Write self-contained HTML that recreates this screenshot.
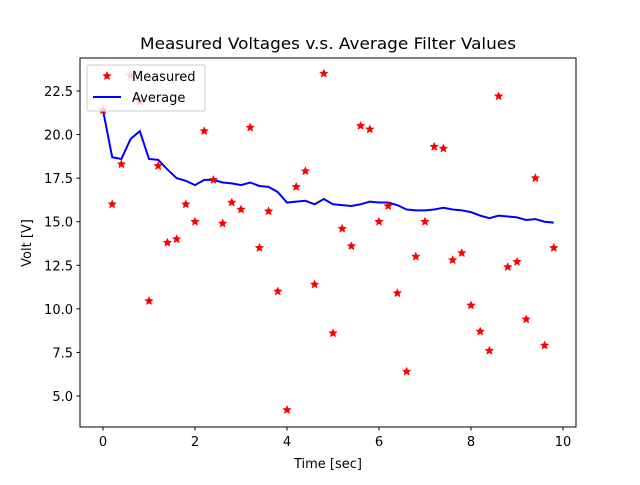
<!DOCTYPE html>
<html><head><meta charset="utf-8"><style>
body{margin:0;background:#fff}
svg text{font-family:"DejaVu Sans","Liberation Sans",sans-serif;fill:#000}
</style></head><body>
<svg id="chart" width="640" height="480" viewBox="0 0 640 480" xmlns="http://www.w3.org/2000/svg">
<rect width="640" height="480" fill="#fff"/>
<text x="328" y="49" font-size="16" text-anchor="middle" textLength="376" lengthAdjust="spacingAndGlyphs">Measured Voltages v.s. Average Filter Values</text>
<text x="328" y="468" font-size="13" text-anchor="middle">Time [sec]</text>
<text transform="translate(31,243) rotate(-90)" font-size="13" text-anchor="middle">Volt [V]</text>
<g id="ticks"></g>
<g id="plot"></g>
<rect x="80" y="58" width="496" height="369" fill="none" stroke="#000" stroke-width="1"/>
<g id="legend">
<rect x="87" y="65" width="118" height="46" rx="2" fill="#fff" fill-opacity="0.8" stroke="#ccc"/>
<g id="legstar"></g>
<line x1="93" y1="97" x2="121" y2="97" stroke="#00f" stroke-width="2"/>
<text x="132" y="81" font-size="13">Measured</text>
<text x="132" y="102" font-size="13">Average</text>
</g>
</svg>
<script>
const times = [0,0.2,0.4,0.6,0.8,1.0,1.2,1.4,1.6,1.8,2.0,2.2,2.4,2.6,2.8,3.0,3.2,3.4,3.6,3.8,4.0,4.2,4.4,4.6,4.8,5.0,5.2,5.4,5.6,5.8,6.0,6.2,6.4,6.6,6.8,7.0,7.2,7.4,7.6,7.8,8.0,8.2,8.4,8.6,8.8,9.0,9.2,9.4,9.6,9.8];
const measured = [21.4,16.0,18.3,23.4,21.9,10.45,18.2,13.8,14.0,16.0,15.0,20.2,17.4,14.9,16.1,15.7,20.4,13.5,15.6,11.0,4.2,17.0,17.9,11.4,23.5,8.6,14.6,13.6,20.5,20.3,15.0,15.9,10.9,6.4,13.0,15.0,19.3,19.2,12.8,13.2,10.2,8.7,7.6,22.2,12.4,12.7,9.4,17.5,7.9,13.5];
const average = [21.4,18.7,18.6,19.75,20.2,18.6,18.55,18.0,17.5,17.35,17.1,17.4,17.4,17.25,17.2,17.1,17.25,17.05,17.0,16.7,16.1,16.15,16.2,16.0,16.3,16.0,15.95,15.9,16.0,16.15,16.1,16.1,15.95,15.7,15.65,15.65,15.7,15.8,15.7,15.65,15.55,15.35,15.2,15.35,15.3,15.25,15.1,15.15,15.0,14.95];
const xTicks = [0,2,4,6,8,10];
const yTicks = [5.0,7.5,10.0,12.5,15.0,17.5,20.0,22.5];
const NS='http://www.w3.org/2000/svg';
const X = v => 103 + v*46;
const Y = v => 396 - (v-5)*(305/17.5);
function mk(tag, attrs, parent){const e=document.createElementNS(NS,tag);for(const k in attrs)e.setAttribute(k,attrs[k]);parent.appendChild(e);return e;}
const tk=document.getElementById('ticks');
xTicks.forEach(t=>{
  const l=mk('line',{x1:X(t),x2:X(t),y1:427,y2:430.5,stroke:'#000'},tk);
  
  
  const s=mk('text',{x:X(t),y:446,'font-size':13,'text-anchor':'middle'},tk);
  s.textContent=String(t);
  
  
});
yTicks.forEach(t=>{
  const l=mk('line',{x1:76.5,x2:80,y1:Y(t),y2:Y(t),stroke:'#000'},tk);
  
  
  const s=mk('text',{x:73,y:Y(t)+5,'font-size':13,'text-anchor':'end'},tk);
  s.textContent=t.toFixed(1);
  
  
});
function starPts(cx,cy,r){let p=[];for(let i=0;i<10;i++){const a=-Math.PI/2+i*Math.PI/5;const rr=i%2?r*0.45:r;p.push((cx+rr*Math.cos(a)).toFixed(2)+','+(cy+rr*Math.sin(a)).toFixed(2));}return p.join(' ');}
const pl=document.getElementById('plot');
const line=mk('polyline',{points:times.map((t,i)=>X(t)+','+Y(average[i])).join(' '),fill:'none',stroke:'#00f','stroke-width':2},pl);


times.forEach((t,i)=>{
  const s=mk('polygon',{points:starPts(X(t),Y(measured[i]),4.4),fill:'#f00',stroke:'#f00','stroke-width':0.5},pl);
  
  
});
const ls=mk('polygon',{points:starPts(107,76,4.4),fill:'#f00',stroke:'#f00','stroke-width':0.5},document.getElementById('legstar'));


</script>
</body></html>
